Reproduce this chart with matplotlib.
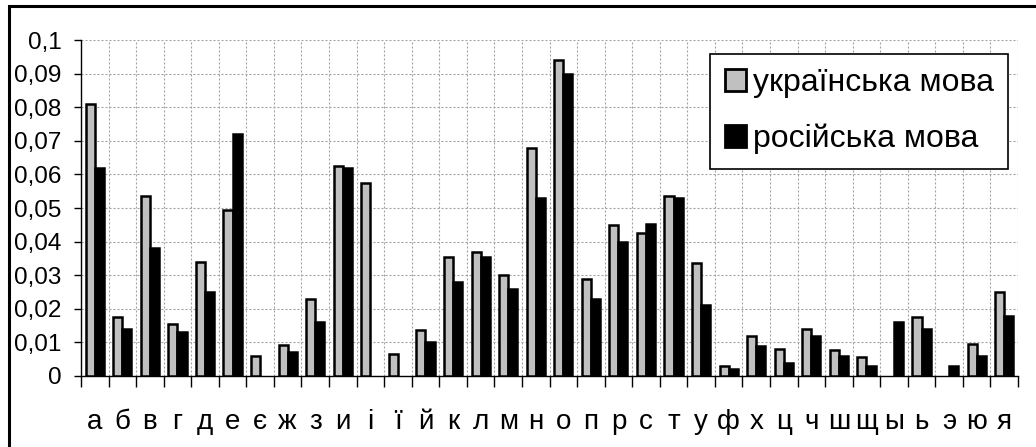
import matplotlib
matplotlib.use("Agg")
import matplotlib.pyplot as plt
import numpy as np
from matplotlib.ticker import FuncFormatter, MultipleLocator
from matplotlib.patches import Rectangle

letters = ["а","б","в","г","д","е","є","ж","з","и","і","ї","й","к","л","м","н","о",
           "п","р","с","т","у","ф","х","ц","ч","ш","щ","ы","ь","э","ю","я"]
ukr = [0.081,0.0175,0.0535,0.0155,0.034,0.0495,0.006,0.0093,0.023,0.0625,0.0575,0.0065,
       0.0137,0.0355,0.037,0.030,0.068,0.094,0.029,0.0448,0.0425,0.0535,0.0335,0.003,
       0.012,0.008,0.014,0.0077,0.0056,0.0,0.0177,0.0,0.0095,0.025]
rus = [0.062,0.014,0.038,0.013,0.025,0.072,0.0,0.007,0.016,0.062,0.0,0.0,
       0.010,0.028,0.0355,0.026,0.053,0.090,0.023,0.040,0.0452,0.053,0.021,0.002,
       0.009,0.004,0.012,0.006,0.003,0.016,0.014,0.003,0.006,0.018]
labels = ["українська мова", "російська мова"]

plt.rcParams['font.family'] = ['Liberation Sans', 'DejaVu Sans']

W, H = 1036, 447
fig = plt.figure(figsize=(W/100, H/100), dpi=100)
fig.patches.append(Rectangle((9/W, -0.1), 1.2, 1 - 6/H + 0.1, transform=fig.transFigure,
                             fill=False, edgecolor='black', linewidth=2.2))
ax = fig.add_axes([81/W, 1 - 376/H, (1018 - 81)/W, (376 - 40)/H])

n = len(letters)
x = np.arange(n)
w = 0.33
u = np.array([v if v > 0 else np.nan for v in ukr])
r = np.array([v if v > 0 else np.nan for v in rus])
ax.bar(x - w/2, u, w, color='#c0c0c0', edgecolor='black', linewidth=1.8, zorder=3, label=labels[0])
ax.bar(x + w/2, r, w, color='black', edgecolor='black', linewidth=1.8, zorder=3, label=labels[1])

ax.set_xlim(-0.5, n - 0.5)
ax.set_ylim(0, 0.1)
ax.yaxis.set_major_locator(MultipleLocator(0.01))
ax.yaxis.set_major_formatter(FuncFormatter(lambda v, p: ('%g' % round(v, 3)).replace('.', ',')))

ax.set_xticks(np.arange(-0.5, n, 1.0))
ax.set_xticklabels([])
ax.set_xticks(x, minor=True)
ax.set_xticklabels(letters, minor=True)
ax.tick_params(axis='x', which='major', length=8, width=1, color='black', direction='out')
ax.tick_params(axis='x', which='minor', length=0, pad=24, labelsize=20)
ax.tick_params(axis='y', length=5, width=1, direction='out', labelsize=17.5, pad=9)

for s in ['top', 'right']:
    ax.spines[s].set_visible(False)
ax.spines['left'].set_linewidth(1)
ax.spines['bottom'].set_linewidth(1)

ax.grid(True, which='major', axis='both', color='#a0a0a0', linestyle=(0, (1.8, 1.8)), linewidth=0.8, zorder=0)
ax.set_axisbelow(True)

leg = ax.legend(loc='upper right', bbox_to_anchor=(1008/W, 1 - 54/H), bbox_transform=fig.transFigure,
                prop={'size': 23},
                frameon=True, fancybox=False, edgecolor='black', framealpha=1,
                handlelength=0.66, handleheight=0.69, handletextpad=0.22, labelspacing=0.8,
                borderpad=0.45, borderaxespad=0)
leg.get_frame().set_linewidth(1.2)
for p in leg.get_patches():
    p.set_linewidth(2)

fig.savefig('out.png', dpi=100)
